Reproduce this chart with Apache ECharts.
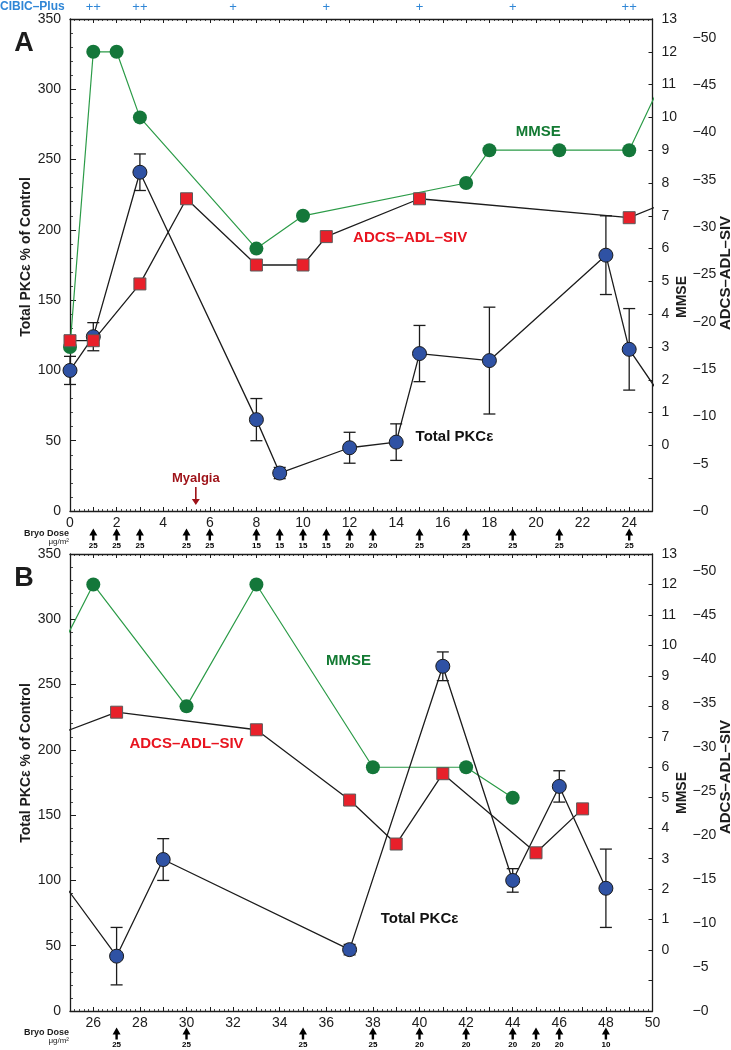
<!DOCTYPE html>
<html><head><meta charset="utf-8">
<script src="https://cdn.jsdelivr.net/npm/echarts@6/dist/echarts.min.js"></script>
<style>html,body{margin:0;padding:0;background:#fff}#c{width:731px;height:1050px}</style>
</head><body><div id="c"></div>
<script>
// ---------- data ----------
const pkcDay  = [0, 1, 3, 8, 9, 12, 14, 15, 18, 23, 24, 27, 29, 37, 41, 44, 46, 48];
const pkc     = [100, 124, 241, 65, 27, 45, 49, 112, 107, 182, 115, 42, 116, 47, 264, 100, 172, 94];
const pkcErr  = [10, 10, 13, 15, 4, 11, 13, 20, 38, 28, 29, 22, 16, 4, 11, 9, 12, 30];

const mmseDay = [0, 1, 2, 3, 8, 10, 17, 18, 21, 24, 26, 30, 33, 38, 42, 44];
const mmse    = [3, 12, 12, 10, 6, 7, 8, 9, 9, 9, 12, 8, 12, 6, 6, 5];

const adcsDay = [0, 1, 3, 5, 8, 10, 11, 15, 24, 27, 33, 37, 39, 41, 45, 47];
const adcs    = [18, 18, 24, 33, 26, 26, 29, 33, 31, 34, 32, 24, 19, 27, 18, 23];

const doseDayA = [1, 2, 3, 5, 6, 8, 9, 10, 11, 12, 13, 15, 17, 19, 21, 24];
const doseA    = [25, 25, 25, 25, 25, 15, 15, 15, 15, 20, 20, 25, 25, 25, 25, 25];
const doseDayB = [27, 30, 35, 38, 40, 42, 44, 45, 46, 48];
const doseB    = [25, 25, 25, 25, 20, 20, 20, 20, 20, 10];

const cibicDay = [1, 3, 7, 11, 15, 19, 24];
const cibic    = ['++', '++', '+', '+', '+', '+', '++'];

const myalgiaDay = 5.4;

// ---------- style ----------
const font = '"Liberation Sans", Arial, Helvetica, sans-serif';
const ink = '#1c1c1c';
const panels = [
  {min: 0, max: 25, top: 19, height: 492, doseTop: 528, letter: 'A', letterY: 44,
   titleY: 257, mmseY: 297, adcsY: 273,
   labels: {mmse: [20.1, 269.6], adcs: [14.6, 194.2], pkc: [16.5, 52.6]}},
  {min: 25, max: 50, top: 554, height: 457, doseTop: 1027, letter: 'B', letterY: 579,
   titleY: 763, mmseY: 793, adcsY: 777,
   labels: {mmse: [36.95, 268], adcs: [30.0, 204.5], pkc: [40.0, 70.5]}}
];
const gridLeft = 70, gridRight = 78.5;

const zip = (xs, ys) => xs.map((x, i) => [x, ys[i]]);
const txtLabel = {opacity: 1, textBorderWidth: 0, textShadowBlur: 0};

const grids = [], xAxes = [], yAxes = [], series = [], graphics = [];

panels.forEach((p, k) => {
  grids.push({left: gridLeft, right: gridRight, top: p.top, height: p.height, outerBoundsMode: 'none'});
  const g = grids.length - 1;
  const axLine = {show: true, onZero: false, lineStyle: {color: ink, width: 1.3}};
  xAxes.push({type: 'value', gridIndex: g, min: p.min, max: p.max, interval: 1, position: 'bottom',
    axisLine: axLine,
    axisTick: {show: true, inside: true, length: 4, lineStyle: {color: ink, width: 1}},
    minorTick: {show: true, splitNumber: 5, length: 2, lineStyle: {color: ink, width: 0.8}},
    splitLine: {show: false}, minorSplitLine: {show: false},
    axisLabel: {show: true, margin: 5, fontSize: 14, color: ink, fontFamily: font,
      showMinLabel: true, showMaxLabel: true, hideOverlap: false,
      formatter: v => (Math.round(v) % 2 === 0 ? String(Math.round(v)) : '')}
  });
  const xb = xAxes.length - 1;
  xAxes.push({type: 'value', gridIndex: g, min: p.min, max: p.max, interval: 1, position: 'top',
    axisLine: axLine,
    axisTick: {show: true, inside: true, length: 4, lineStyle: {color: ink, width: 1}},
    minorTick: {show: true, splitNumber: 5, length: 2, lineStyle: {color: ink, width: 0.8}},
    splitLine: {show: false}, axisLabel: {show: false}
  });
  yAxes.push({type: 'value', gridIndex: g, min: 0, max: 350, interval: 50, position: 'left',
    axisLine: axLine,
    axisTick: {show: true, inside: true, length: 6, lineStyle: {color: ink, width: 1}},
    minorTick: {show: true, splitNumber: 5, length: 3, lineStyle: {color: ink, width: 0.8}},
    splitLine: {show: false},
    axisLabel: {margin: 9, fontSize: 14, color: ink, fontFamily: font, showMinLabel: true, showMaxLabel: true, hideOverlap: false}
  });
  const yP = yAxes.length - 1;
  yAxes.push({type: 'value', gridIndex: g, min: -2, max: 13, interval: 1, position: 'right',
    axisLine: axLine,
    axisTick: {show: true, inside: true, length: 4, lineStyle: {color: ink, width: 1}},
    splitLine: {show: false},
    axisLabel: {margin: 9, fontSize: 14, color: ink, fontFamily: font, showMinLabel: true, showMaxLabel: true, hideOverlap: false,
      formatter: v => (v < 0 ? '' : String(v))}
  });
  const yM = yAxes.length - 1;
  yAxes.push({type: 'value', gridIndex: g, min: 0, max: 52, interval: 5, position: 'right', offset: 31,
    axisLine: {show: false}, axisTick: {show: false}, splitLine: {show: false},
    axisLabel: {margin: 9, fontSize: 14, color: ink, fontFamily: font, showMinLabel: true, showMaxLabel: true, hideOverlap: false,
      formatter: v => ((v % 5 === 0 && v <= 50) ? '\u2212' + v : '')}
  });
  const yA = yAxes.length - 1;

  series.push({type: 'line', xAxisIndex: xb, yAxisIndex: yM, data: zip(mmseDay, mmse), clip: true,
    symbol: 'circle', symbolSize: 14, itemStyle: {color: '#14773a', opacity: 1},
    lineStyle: {color: '#2b9b47', width: 1.2}, z: 2});
  const errData = pkcDay.map((d, i) => [d, pkc[i], pkcErr[i]]).filter(r => r[0] >= p.min && r[0] <= p.max);
  series.push({type: 'custom', xAxisIndex: xb, yAxisIndex: yP, data: errData, z: 3,
    encode: {x: 0, y: 1},
    renderItem: (params, api) => {
      const x = api.value(0), y = api.value(1), e = api.value(2);
      const t = api.coord([x, y + e]), b = api.coord([x, y - e]);
      const w = 6, st = {stroke: ink, lineWidth: 1.3};
      return {type: 'group', children: [
        {type: 'line', shape: {x1: t[0], y1: t[1], x2: b[0], y2: b[1]}, style: st},
        {type: 'line', shape: {x1: t[0] - w, y1: t[1], x2: t[0] + w, y2: t[1]}, style: st},
        {type: 'line', shape: {x1: b[0] - w, y1: b[1], x2: b[0] + w, y2: b[1]}, style: st}
      ]};
    }});
  series.push({type: 'line', xAxisIndex: xb, yAxisIndex: yP, data: zip(pkcDay, pkc), clip: true,
    symbol: 'circle', symbolSize: 14,
    itemStyle: {color: '#2f52a4', borderColor: '#1a1a1a', borderWidth: 1, opacity: 1},
    lineStyle: {color: ink, width: 1.3}, z: 4});
  series.push({type: 'line', xAxisIndex: xb, yAxisIndex: yA, data: zip(adcsDay, adcs), clip: true,
    symbol: 'rect', symbolSize: 12,
    itemStyle: {color: '#e8202a', borderColor: '#5a5a5a', borderWidth: 1, opacity: 1},
    lineStyle: {color: ink, width: 1.3}, z: 5});
  const lab = (pos, text, color) => ({value: pos, label: {formatter: text, color: color}});
  series.push({type: 'scatter', xAxisIndex: xb, yAxisIndex: yP, symbolSize: 1, clip: false,
    itemStyle: {color: '#fff', opacity: 0}, z: 6,
    label: Object.assign({show: true, position: 'inside', fontSize: 15, fontWeight: 'bold', fontFamily: font}, txtLabel),
    data: [lab(p.labels.mmse, 'MMSE', '#137a33'), lab(p.labels.adcs, 'ADCS\u2013ADL\u2013SIV', '#e8141f'),
           lab(p.labels.pkc, 'Total PKC\u03b5', '#111')]});
  if (k === 0) {
    series.push({type: 'scatter', xAxisIndex: xb, yAxisIndex: yP, clip: false, z: 6,
      symbol: 'path://M3.2,0 L4.8,0 L4.8,12 L8,12 L4,18 L0,12 L3.2,12 Z', symbolSize: [8, 18],
      itemStyle: {color: '#9e1218', opacity: 1},
      label: Object.assign({show: true, position: 'top', distance: 2, formatter: 'Myalgia', color: '#9e1218',
        fontSize: 13, fontWeight: 'bold', fontFamily: font}, txtLabel),
      data: [[myalgiaDay, 10.7]]});
  }

  grids.push({left: gridLeft, right: gridRight, top: p.doseTop, height: 13, outerBoundsMode: 'none'});
  const gd = grids.length - 1;
  xAxes.push({type: 'value', gridIndex: gd, min: p.min, max: p.max, show: false});
  yAxes.push({type: 'value', gridIndex: gd, min: 0, max: 1, show: false});
  const dDays = k === 0 ? doseDayA : doseDayB, dVals = k === 0 ? doseA : doseB;
  series.push({type: 'scatter', xAxisIndex: xAxes.length - 1, yAxisIndex: yAxes.length - 1, clip: false,
    symbol: 'path://M4,0 L8,7 L5.2,7 L5.2,12 L2.8,12 L2.8,7 L0,7 Z', symbolSize: [8, 12],
    itemStyle: {color: '#000', opacity: 1},
    label: Object.assign({show: true, position: 'bottom', distance: 1, fontSize: 8, fontWeight: 'bold', color: '#000', fontFamily: font,
      formatter: pr => String(dVals[pr.dataIndex])}, txtLabel),
    data: dDays.map(d => [d, 0.5])});

  graphics.push({type: 'text', x: 24, y: p.letterY,
    style: {text: p.letter, fontSize: 27, fontWeight: 'bold', fill: ink, fontFamily: font, align: 'center', verticalAlign: 'middle'}});
  graphics.push({type: 'text', x: 26, y: p.titleY, rotation: Math.PI / 2,
    style: {text: 'Total PKC\u03b5 % of Control', fontSize: 14, fontWeight: 'bold', fill: ink, fontFamily: font, align: 'center', verticalAlign: 'middle'}});
  graphics.push({type: 'text', x: 682, y: p.mmseY, rotation: Math.PI / 2,
    style: {text: 'MMSE', fontSize: 14, fontWeight: 'bold', fill: ink, fontFamily: font, align: 'center', verticalAlign: 'middle'}});
  graphics.push({type: 'text', x: 726, y: p.adcsY, rotation: Math.PI / 2,
    style: {text: 'ADCS\u2013ADL\u2013SIV', fontSize: 15, fontWeight: 'bold', fill: ink, fontFamily: font, align: 'center', verticalAlign: 'middle'}});
  graphics.push({type: 'text', x: 69, y: p.doseTop + 6, style: {text: 'Bryo Dose', fontSize: 9, fontWeight: 'bold', fill: ink, fontFamily: font, align: 'right', verticalAlign: 'middle'}});
  graphics.push({type: 'text', x: 69, y: p.doseTop + 14, style: {text: '\u03bcg/m\u00b2', fontSize: 8, fill: ink, fontFamily: font, align: 'right', verticalAlign: 'middle'}});
});

grids.push({left: gridLeft, right: gridRight, top: 1, height: 12, outerBoundsMode: 'none'});
xAxes.push({type: 'value', gridIndex: grids.length - 1, min: 0, max: 25, show: false});
yAxes.push({type: 'value', gridIndex: grids.length - 1, min: 0, max: 1, show: false});
series.push({type: 'scatter', xAxisIndex: xAxes.length - 1, yAxisIndex: yAxes.length - 1, clip: false,
  symbolSize: 1, itemStyle: {color: '#fff', opacity: 0},
  label: Object.assign({show: true, position: 'inside', fontSize: 13, color: '#2f86d6', fontFamily: font,
    formatter: pr => cibic[pr.dataIndex]}, txtLabel),
  data: cibicDay.map(d => [d, 0.5])});
graphics.push({type: 'text', x: 0, y: 7, style: {text: 'CIBIC\u2013Plus', fontSize: 12, fontWeight: 'bold', fill: '#2f86d6', fontFamily: font, align: 'left', verticalAlign: 'middle'}});

const chart = echarts.init(document.getElementById('c'), null, {renderer: 'canvas'});
chart.setOption({
  animation: false,
  backgroundColor: '#fff',
  textStyle: {fontFamily: font},
  grid: grids, xAxis: xAxes, yAxis: yAxes, series: series, graphic: graphics
});
</script></body></html>
